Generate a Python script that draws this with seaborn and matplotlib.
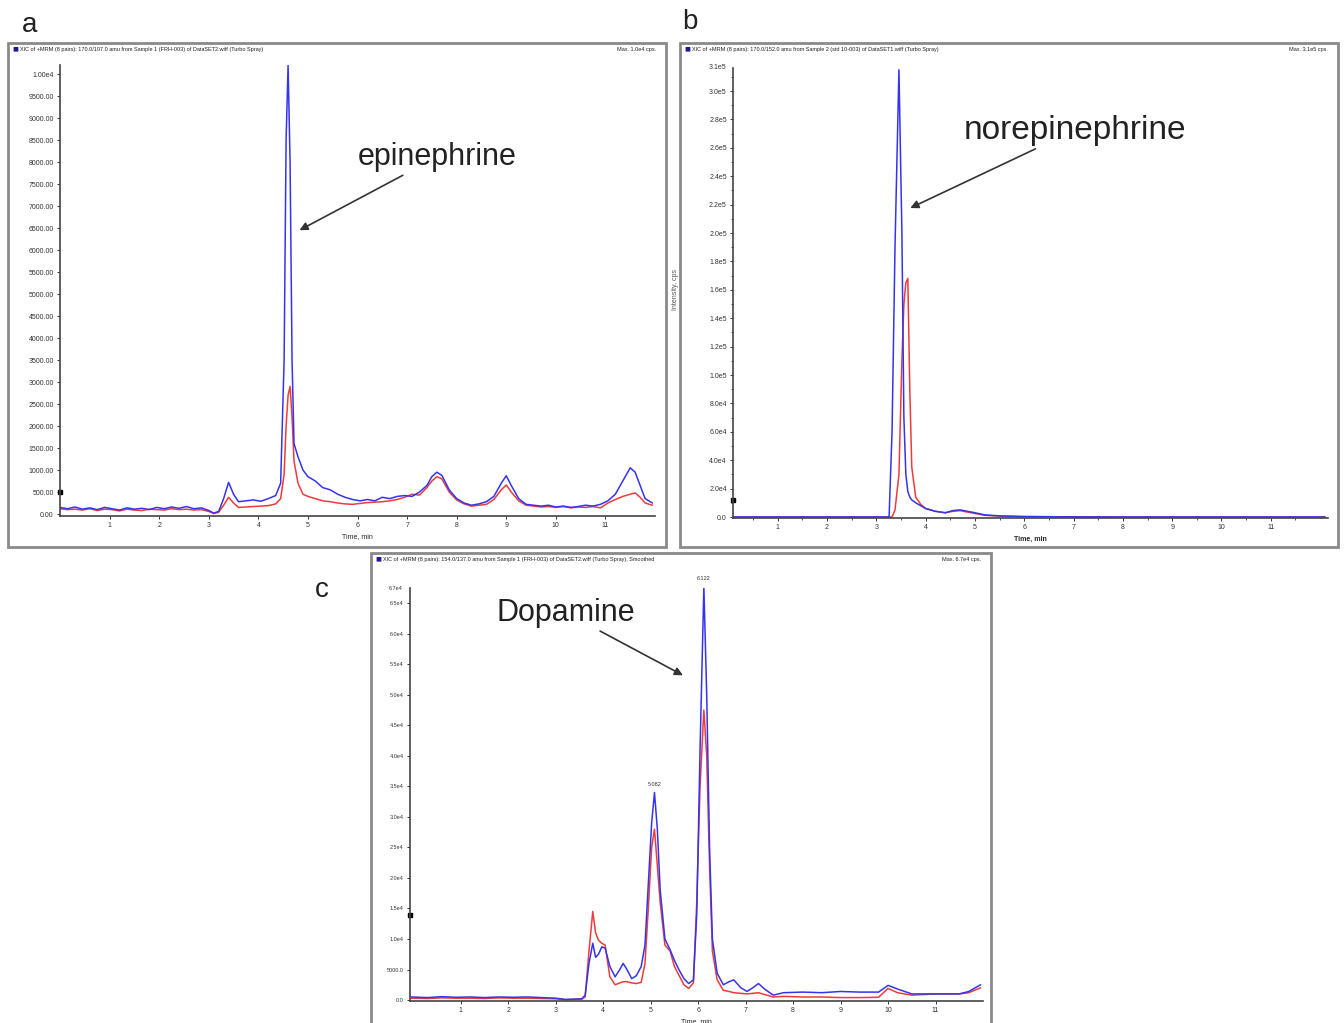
import numpy as np
import matplotlib
matplotlib.use("Agg")
import matplotlib.pyplot as plt
from matplotlib.patches import Rectangle
import seaborn as sns

# ---- data (time in min, intensity in cps) ----
a_time = [0.0, 0.15, 0.3, 0.45, 0.6, 0.75, 0.9, 1.05, 1.2, 1.35, 1.5, 1.65, 1.8, 1.95, 2.1, 2.25, 2.4, 2.55, 2.7, 2.85,
          3.0, 3.1, 3.2, 3.3, 3.4, 3.5, 3.6,
          3.75, 3.9, 4.05, 4.2, 4.35,
          4.45, 4.52, 4.56, 4.6, 4.64, 4.68, 4.72,
          4.8, 4.9, 5.0,
          5.15, 5.3, 5.45, 5.6, 5.75, 5.9, 6.05, 6.2, 6.35, 6.5, 6.65, 6.8, 6.95, 7.1, 7.25,
          7.4, 7.5, 7.6, 7.7,
          7.85, 8.0, 8.15, 8.3, 8.45, 8.6, 8.75, 8.9,
          9.0, 9.1,
          9.25, 9.4, 9.55, 9.7, 9.85, 10.0, 10.15, 10.3, 10.45, 10.6, 10.75, 10.9, 11.05, 11.2, 11.35, 11.5,
          11.6, 11.7, 11.8, 11.95]
a_blue = [150, 120, 160, 110, 140, 100, 150, 120, 90, 140, 110, 130, 100, 150, 120, 160, 130, 170, 120, 140,
          80, 20, 60, 350, 720, 450, 280,
          300, 320, 290, 350, 420,
          700, 3500, 8500, 10200, 8000, 3500, 1600,
          1300, 1000, 850,
          750, 600, 550, 450, 380, 330, 300, 330, 300, 380, 350, 400, 420, 400, 500,
          650, 850, 950, 880,
          550, 350, 250, 200, 230, 280, 400, 700,
          870, 650,
          350, 220, 200, 180, 200, 160, 180, 150, 170, 200, 180, 220, 300, 450, 750, 1050,
          950, 650, 350, 250]
a_red = [120, 100, 110, 90, 120, 80, 110, 100, 70, 110, 90, 80, 110, 100, 90, 120, 100, 110, 90, 100,
         60, 10, 40, 200, 380, 250, 150,
         160, 170, 180, 190, 230,
         350, 900, 2000, 2700, 2900, 2200, 1200,
         700, 450, 400,
         350, 300, 280, 250, 230, 220, 240, 260, 270, 280, 300, 330, 380, 450, 430,
         600, 750, 850, 800,
         500, 320, 230, 180, 200, 220, 330, 550,
         660, 500,
         300, 200, 180, 160, 170, 150, 170, 140, 160, 150, 170, 140, 250, 330, 400, 450,
         480, 380, 250, 200]

b_time = [0.1, 0.5, 1.0, 1.5, 2.0, 2.5, 3.0, 3.2, 3.26, 3.32, 3.38, 3.46, 3.52, 3.56, 3.6, 3.64, 3.68, 3.72,
          3.8, 3.9, 4.0, 4.2, 4.4, 4.55, 4.7, 4.85, 5.0, 5.2, 5.5, 6.0, 7.0, 8.0, 9.0, 10.0, 11.0, 12.1]
b_blue = [0, 0, 0, 0, 0, 0, 0, 0, 0, 60000, 190000, 315000, 200000, 70000, 30000, 18000, 14000, 12000,
          10000, 8000, 6000, 4000, 3000, 4500, 5000, 4000, 3000, 1500, 800, 300, 100, 0, 0, 0, 0, 0]
b_red = [0, 0, 0, 0, 0, 0, 0, 0, 0, 0, 5000, 30000, 110000, 150000, 165000, 168000, 90000, 35000,
         14000, 9000, 6000, 4000, 3000, 4000, 4500, 3500, 2500, 1200, 600, 300, 100, 0, 0, 0, 0, 0]

c_time = [-0.05, 0.3, 0.6, 0.9, 1.2, 1.5, 1.8, 2.1, 2.4, 2.7,
          3.0, 3.2, 3.4, 3.55,
          3.62, 3.7, 3.78, 3.84, 3.9, 3.97, 4.04,
          4.14, 4.25, 4.35, 4.42, 4.5, 4.6, 4.7, 4.8, 4.88,
          4.95, 5.02, 5.08, 5.14, 5.2, 5.3, 5.41, 5.5, 5.6, 5.7, 5.8, 5.9, 5.97,
          6.04, 6.12, 6.18, 6.24, 6.3, 6.4, 6.53, 6.65, 6.75, 6.9, 7.03, 7.15, 7.27, 7.4, 7.58,
          7.8, 8.2, 8.6, 9.0, 9.4, 9.8, 10.0, 10.2, 10.5, 11.0, 11.5, 11.7, 11.95]
c_blue = [500, 400, 550, 450, 500, 400, 500, 450, 500, 400,
          300, 100, 150, 200,
          800, 6000, 9300, 7000, 7500, 8700, 8500,
          5500, 3800, 5000, 6000, 5000, 3500, 4000, 5500, 9000,
          19000, 29000, 34000, 28000, 18000, 10000, 8200, 6500, 4900, 3500, 2700, 3300, 14000,
          41000, 67700, 50000, 25000, 10000, 4400, 2500, 3000, 3300, 2000, 1400, 2000, 2700, 1800, 800,
          1200, 1300, 1200, 1400, 1300, 1300, 2400, 1800, 1000, 1000, 1000, 1400, 2500]
c_red = [300, 250, 350, 300, 300, 250, 350, 300, 300, 250,
         200, 50, 100, 150,
         500, 8000, 14500, 11000, 9800, 9300, 9000,
         3800, 2500, 2800, 3000, 3000, 2800, 2700, 2900, 6000,
         15000, 25000, 28000, 22000, 16000, 9000, 8000, 5500, 4000, 2500, 1900, 2800, 16000,
         35000, 47500, 40000, 22000, 8000, 3300, 1600, 1400, 1200, 1100, 1000, 1100, 1200, 900, 500,
         600, 500, 500, 400, 400, 450, 1900, 1200, 800, 1000, 1000, 1200, 2000]
c_peak_labels = ["5.082", "6.122"]
c_peak_times = [5.08, 6.12]

headers = ["XIC of +MRM (8 pairs): 170.0/107.0 amu from Sample 1 (FRH-003) of DataSET2.wiff (Turbo Spray)",
           "XIC of +MRM (8 pairs): 170.0/152.0 amu from Sample 2 (std 10-003) of DataSET1.wiff (Turbo Spray)",
           "XIC of +MRM (8 pairs): 154.0/137.0 amu from Sample 1 (FRH-003) of DataSET2.wiff (Turbo Spray), Smoothed"]
max_labels = ["Max. 1.0e4 cps.", "Max. 3.1e5 cps.", "Max. 6.7e4 cps."]
thresholds = [500, 12000, 14000]

BLUE = "#3434f0"
RED = "#f03a3a"
W, H = 1344, 1023

sns.set_style("ticks")
plt.rcParams['font.family'] = ['Liberation Sans', 'DejaVu Sans']

fig = plt.figure(figsize=(W / 100, H / 100), dpi=100)


def px_axes(l, t, r, b):
    return fig.add_axes([l / W, 1 - b / H, (r - l) / W, (b - t) / H])


def sci(v):
    e = int(np.floor(np.log10(v)))
    return f"{v / 10 ** e:.1f}e{e}"


def frame(l, t, r, b, header, maxlab):
    fig.patches.append(Rectangle((l / W, 1 - b / H), (r - l) / W, (b - t) / H, transform=fig.transFigure,
                                 fill=False, edgecolor="#8a8a8a", linewidth=2))
    fig.text((l + 4) / W, 1 - (t + 6) / H, "\u25A0", color="#1a1a99", fontsize=4.5, va="center",
             family=["DejaVu Sans"])
    fig.text((l + 12) / W, 1 - (t + 6) / H, header, fontsize=4, va="center", color="#222222")
    fig.text((r - 10) / W, 1 - (t + 6) / H, maxlab, fontsize=4, va="center", ha="right", color="#222222")


def style_axes(ax, xlim, ylim):
    sns.despine(ax=ax)
    for s in ["left", "bottom"]:
        ax.spines[s].set_color("#444444")
        ax.spines[s].set_linewidth(1.2)
    ax.set_xlim(*xlim)
    ax.set_ylim(*ylim)
    ax.set_xticks(range(1, 12))
    ax.set_xticklabels([str(i) for i in range(1, 12)])
    ax.tick_params(axis="both", labelsize=5, length=2.5, width=0.7, pad=2, colors="#333333")
    ax.set_facecolor("white")
    ax.set_xlabel("Time, min", fontsize=5, labelpad=3)
    ax.set_ylabel("")


# panel outlines and header lines
frame(8, 43, 666, 547, headers[0], max_labels[0])
frame(680, 43, 1338, 547, headers[1], max_labels[1])
frame(371, 553, 991, 1030, headers[2], max_labels[2])

LW = 1.1

# ---- a: epinephrine ----
ax_a = px_axes(60, 65, 655, 516)
sns.lineplot(x=a_time, y=a_red, ax=ax_a, color=RED, linewidth=LW)
sns.lineplot(x=a_time, y=a_blue, ax=ax_a, color=BLUE, linewidth=LW)
style_axes(ax_a, (0, 12), (-45, 10205))
a_ticks = np.arange(0, 10001, 500)
ax_a.set_yticks(a_ticks)
ax_a.set_yticklabels([f"{v:.2f}" if v < 10000 else "1.00e4" for v in a_ticks])
ax_a.plot([0], [thresholds[0]], marker="s", ms=2.5, color="k", clip_on=False)
ax_a.annotate("epinephrine", xy=(4.83, 6450), xytext=(0.634, 0.796), textcoords="axes fraction",
              fontsize=22, ha="center", va="center", color="#222222",
              arrowprops=dict(arrowstyle="-|>", color="#333333", lw=1.2, shrinkA=0, shrinkB=0,
                              mutation_scale=12))

# ---- b: norepinephrine ----
ax_b = px_axes(733, 68, 1328, 518)
sns.lineplot(x=b_time, y=b_red, ax=ax_b, color=RED, linewidth=LW)
sns.lineplot(x=b_time, y=b_blue, ax=ax_b, color=BLUE, linewidth=LW)
style_axes(ax_b, (0.095, 12.16), (-700, 316200))
b_ticks = np.arange(0, 300001, 20000)
ax_b.set_yticks(b_ticks)
ax_b.set_yticklabels(["0.0"] + [sci(v) for v in b_ticks[1:]])
ax_b.set_yticks(np.arange(10000, 310001, 20000), minor=True)
ax_b.set_xticks(np.arange(0.5, 12, 1.0), minor=True)
ax_b.tick_params(which="minor", length=1.5, width=0.6, colors="#333333")
ax_b.text(-0.012, 1.0, "3.1e5", transform=ax_b.transAxes, fontsize=5, ha="right", va="center",
          color="#333333")
ax_b.plot([0.095], [thresholds[1]], marker="s", ms=2.5, color="k", clip_on=False)
ax_b.set_xlabel("Time, min", fontsize=5, labelpad=3, fontweight="bold")
fig.text(675 / W, 1 - 290 / H, "Intensity, cps", rotation=90, fontsize=5, color="#555555",
         ha="center", va="center")
ax_b.annotate("norepinephrine", xy=(3.69, 217600), xytext=(0.575, 0.862), textcoords="axes fraction",
              fontsize=24, ha="center", va="center", color="#222222",
              arrowprops=dict(arrowstyle="-|>", color="#333333", lw=1.2, shrinkA=0, shrinkB=0,
                              mutation_scale=12))

# ---- c: dopamine ----
ax_c = px_axes(410, 588, 983, 1001)
sns.lineplot(x=c_time, y=c_red, ax=ax_c, color=RED, linewidth=LW)
sns.lineplot(x=c_time, y=c_blue, ax=ax_c, color=BLUE, linewidth=LW)
style_axes(ax_c, (-0.07, 12.0), (-160, 67500))
c_ticks = np.arange(0, 65001, 5000)
ax_c.set_yticks(c_ticks)
ax_c.set_yticklabels(["0.0", "5000.0"] + [sci(v) for v in c_ticks[2:]])
ax_c.tick_params(axis="y", labelsize=4)
ax_c.text(-0.012, 1.0, "6.7e4", transform=ax_c.transAxes, fontsize=4, ha="right", va="center",
          color="#333333")
ax_c.plot([-0.07], [thresholds[2]], marker="s", ms=2.5, color="k", clip_on=False)
for lab, t in zip(c_peak_labels, c_peak_times):
    i = int(np.argmin(np.abs(np.array(c_time) - t)))
    ax_c.text(c_time[i], c_blue[i] + 900, lab, fontsize=4, ha="center", va="bottom", color="#333333",
              clip_on=False)
ax_c.annotate("Dopamine", xy=(5.68, 53200), xytext=(0.272, 0.94), textcoords="axes fraction",
              fontsize=22, ha="center", va="center", color="#222222",
              arrowprops=dict(arrowstyle="-|>", color="#333333", lw=1.2, shrinkA=0, shrinkB=0,
                              mutation_scale=12))

# panel letters
fig.text(30 / W, 1 - 25 / H, "a", fontsize=20, ha="center", va="center", color="#222222")
fig.text(690 / W, 1 - 22 / H, "b", fontsize=20, ha="center", va="center", color="#222222")
fig.text(322 / W, 1 - 590 / H, "c", fontsize=20, ha="center", va="center", color="#222222")

fig.savefig("out.png", dpi=100)
